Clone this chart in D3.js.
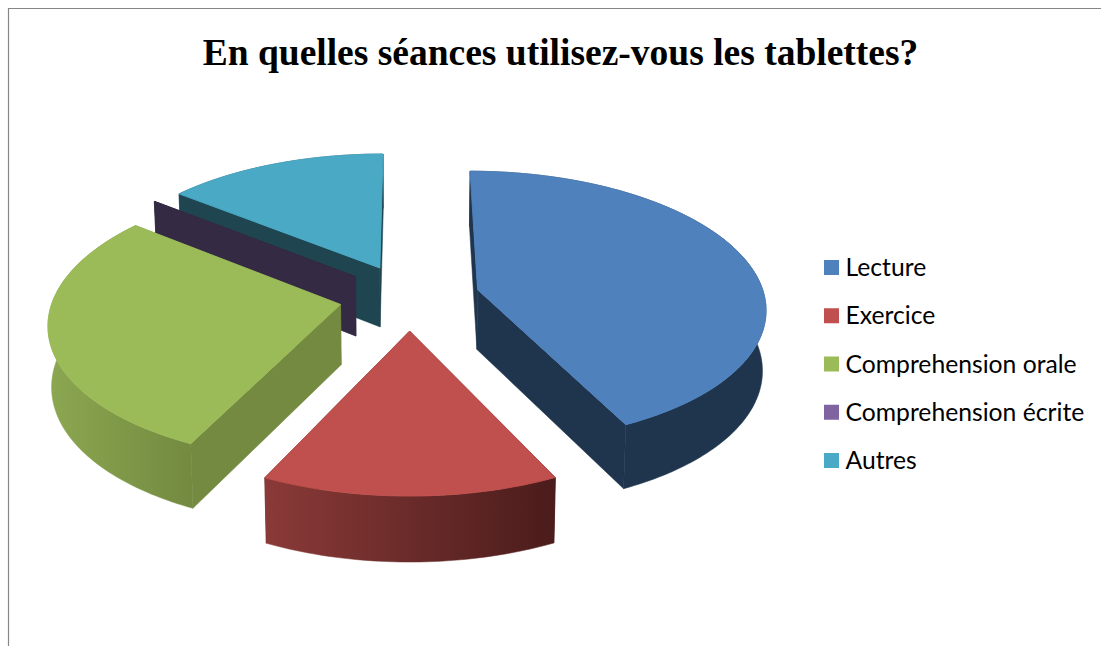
<!DOCTYPE html>
<html><head><meta charset="utf-8">
<script src="https://cdnjs.cloudflare.com/ajax/libs/d3/7.8.5/d3.min.js"></script>
<style>html,body{margin:0;padding:0;background:#fff;overflow:hidden}svg{display:block}</style>
</head><body><svg id="c" width="1101" height="646"></svg>
<script>
const titleText = "En quelles séances utilisez-vous les tablettes?";
const categories = ["Lecture", "Exercice", "Comprehension orale", "Comprehension écrite", "Autres"];
const values = [42.9, 14.3, 28.6, 0.05, 14.3];
const topColors = ["#4f81bd", "#c0504d", "#9bbb59", "#8064a2", "#4aa9c5"];
const wallLeft = ["#1f344d", "#8a3a38", "#8ca751", "#352a44", "#1e4550"];
const wallRight = ["#1f344d", "#4a1c1b", "#738a40", "#352a44", "#1e4550"];
const paintOrder = [4, 3, 0, 2, 1];

const W = 1101, H = 646;
const svg = d3.select("#c");
const defs = svg.append("defs");

const cx = 409.5, cy = 297, R = 287, ry = 135, persp = 0.125, explode = 0.245, depth = 60;
const xScale = d3.scaleLinear().domain([-1, 1]).range([cx - R, cx + R]);
const yScale = d3.scaleLinear().domain([-1, 1]).range([cy - ry, cy + ry]);
const colour = d3.scaleOrdinal().domain(categories).range(topColors);

function proj(U, V, low) {
  const s = 1 / (1 - persp * V);
  const x = cx + (xScale(U) - cx) * s * (low ? 0.99 : 1);
  const y = cy + (yScale(V) - cy) * s + (low ? depth * (1 + 0.08 * V) : 0);
  return [x, y];
}

svg.append("path").attr("d", d3.line()([[8.5, H], [8.5, 8.5], [W, 8.5]]))
  .attr("fill", "none").attr("stroke", "#868686").attr("stroke-width", 1.2);

svg.append("text").text(titleText).attr("x", 560.5).attr("y", 65)
  .attr("text-anchor", "middle").attr("font-family", "'Liberation Serif'")
  .attr("font-weight", 700).attr("font-size", 37.5).attr("fill", "#000");

const arcs = d3.pie().sort(null).value(d => d)(values);
const line = d3.line();

paintOrder.forEach(i => {
  const a = arcs[i];
  const mid = (a.startAngle + a.endAngle) / 2;
  const ou = Math.sin(mid) * explode, ov = -Math.cos(mid) * explode;
  const n = Math.max(2, Math.ceil((a.endAngle - a.startAngle) / 0.02));
  const angles = d3.range(n + 1).map(j => a.startAngle + (a.endAngle - a.startAngle) * j / n);
  const rimPt = (t, low) => proj(ou + Math.sin(t), ov - Math.cos(t), low);
  const apex = low => proj(ou, ov, low);
  const upper = angles.map(t => rimPt(t, false));
  const lower = angles.map(t => rimPt(t, true));
  const xs = upper.map(p => p[0]);

  const gid = "g" + i;
  const grad = defs.append("linearGradient").attr("id", gid).attr("gradientUnits", "userSpaceOnUse")
    .attr("x1", d3.min(xs)).attr("x2", d3.max(xs)).attr("y1", 0).attr("y2", 0);
  grad.append("stop").attr("offset", 0).attr("stop-color", wallLeft[i]);
  grad.append("stop").attr("offset", 1).attr("stop-color", wallRight[i]);
  const g = svg.append("g");

  [a.startAngle, a.endAngle].forEach(t => {
    g.append("path").attr("d", line([apex(false), rimPt(t, false), rimPt(t, true), apex(true)]) + "Z")
      .attr("fill", wallRight[i]).attr("stroke", wallRight[i]).attr("stroke-width", 0.5);
  });
  g.append("path").attr("d", line(upper.concat(lower.slice().reverse())) + "Z")
    .attr("fill", "url(#" + gid + ")").attr("stroke", "url(#" + gid + ")").attr("stroke-width", 0.5);
  const isThin = values[i] < 1;
  g.append("path").attr("d", line([apex(false)].concat(upper)) + "Z")
    .attr("fill", isThin ? wallRight[i] : colour(categories[i]))
    .attr("stroke", isThin ? wallRight[i] : colour(categories[i])).attr("stroke-width", 0.9);
});

const legY = d3.scalePoint().domain(categories).range([260, 453]);
categories.forEach((c, i) => {
  svg.append("rect").attr("x", 824).attr("y", legY(c)).attr("width", 15).attr("height", 15)
    .attr("fill", colour(c));
  svg.append("text").text(c).attr("x", 845.5).attr("y", legY(c) + 16)
    .attr("font-family", "Lato").attr("font-size", 24.7).attr("fill", "#000");
});
</script></body></html>
